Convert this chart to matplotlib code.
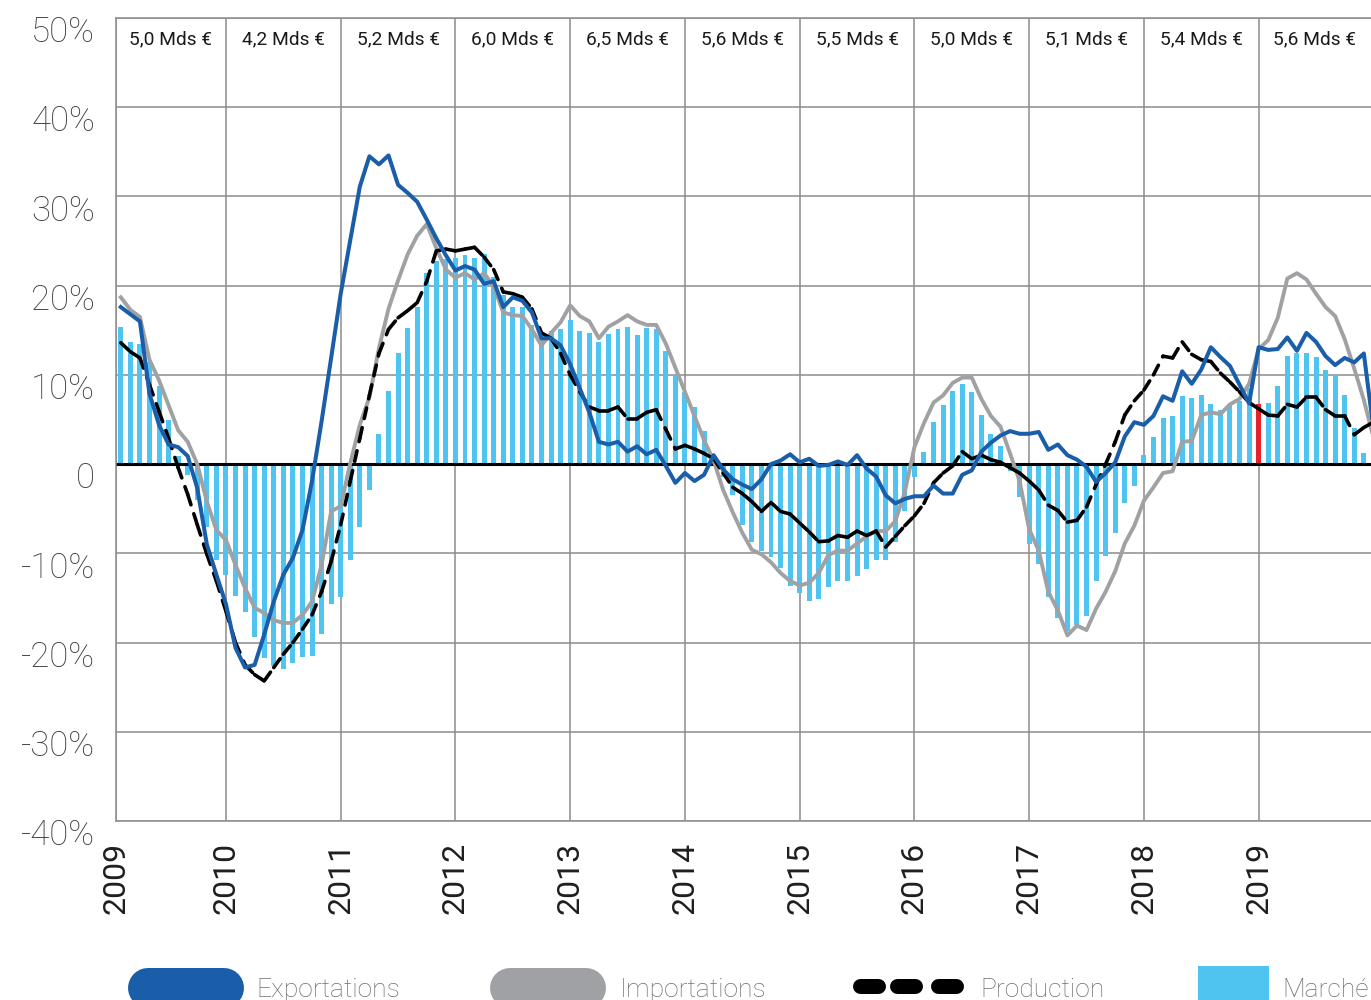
import numpy as np
import pandas as pd
import matplotlib
matplotlib.use("Agg")
import matplotlib.pyplot as plt
from matplotlib.collections import LineCollection
from matplotlib.lines import Line2D
from matplotlib.patches import Rectangle
import matplotlib.transforms as mtransforms

plt.rcParams['font.family'] = ['Roboto', 'DejaVu Sans']

# ---------------- data ----------------
months = pd.date_range("2009-02-01", periods=132, freq="MS")  # Feb 2009 .. Jan 2020

exportations = [
    17.6, 16.8, 16.0, 7.9, 4.4, 2.2, 1.9, 0.9, -2.7, -9.0, -12.4,
    -15.7, -20.6, -22.8, -22.5, -19.1, -15.4, -12.4, -10.5, -7.4, -1.9, 4.8, 11.9,
    19.1, 25.1, 31.1, 34.5, 33.6, 34.6, 31.3, 30.4, 29.4, 27.4, 25.3, 23.4,
    21.7, 22.2, 21.8, 20.2, 20.5, 17.6, 18.7, 18.3, 17.0, 14.1, 14.1, 13.3,
    11.2, 8.5, 5.8, 2.5, 2.2, 2.5, 1.4, 2.0, 1.1, 1.6, -0.2, -2.1,
    -1.0, -1.9, -1.2, 1.0, -0.6, -1.7, -2.3, -2.8, -1.7, 0.0, 0.4, 1.1,
    0.2, 0.6, -0.2, -0.1, 0.3, -0.1, 1.0, -0.5, -1.4, -3.5, -4.4, -3.9,
    -3.6, -3.6, -2.4, -3.3, -3.3, -1.2, -0.7, 1.4, 2.4, 3.2, 3.7, 3.4,
    3.4, 3.6, 1.6, 2.2, 1.0, 0.5, -0.3, -2.0, -1.0, 0.2, 3.1, 4.7,
    4.4, 5.4, 7.6, 7.1, 10.4, 9.0, 10.6, 13.1, 12.0, 11.0, 8.9, 6.8,
    13.1, 12.8, 12.9, 14.2, 12.7, 14.7, 13.7, 12.1, 11.1, 11.9, 11.4, 12.4,
    4.0,
]
importations = [
    18.7, 17.3, 16.5, 11.7, 9.4, 6.6, 3.8, 2.5, 0.0, -4.2, -7.4,
    -8.5, -11.3, -13.9, -16.1, -16.7, -17.5, -17.8, -17.8, -16.9, -15.4, -11.3, -5.3,
    -4.7, 0.1, 4.4, 7.5, 13.0, 17.4, 20.6, 23.5, 25.6, 26.9, 24.2, 21.8,
    20.9, 21.4, 20.7, 21.4, 19.9, 17.0, 16.7, 16.6, 15.1, 13.3, 14.7, 15.9,
    17.8, 16.6, 16.0, 14.1, 15.4, 16.0, 16.7, 16.0, 15.6, 15.6, 13.5, 10.8,
    8.1, 5.4, 2.7, 0.4, -2.9, -5.4, -7.7, -9.6, -10.1, -11.0, -12.2, -13.1,
    -13.6, -13.3, -12.2, -10.2, -9.7, -9.7, -8.9, -8.1, -7.5, -7.5, -6.4, -3.1,
    1.9, 4.6, 6.9, 7.7, 9.1, 9.7, 9.7, 7.3, 5.4, 4.2, 1.2, -1.9,
    -7.3, -9.7, -14.3, -16.4, -19.2, -18.1, -18.6, -16.2, -14.3, -12.0, -8.9, -6.9,
    -4.1, -2.6, -1.0, -0.8, 2.5, 2.6, 5.5, 5.8, 5.6, 6.7, 7.3, 9.0,
    12.9, 13.9, 16.4, 20.8, 21.4, 20.7, 19.1, 17.6, 16.6, 14.0, 10.7, 7.2,
    3.0,
]
production = [
    13.6, 12.6, 11.9, 8.9, 5.9, 2.9, -0.4, -3.4, -6.8, -10.1, -13.1,
    -16.5, -20.0, -22.5, -23.6, -24.3, -22.8, -21.3, -20.0, -18.5, -16.9, -14.3, -10.9,
    -6.8, -1.9, 2.9, 7.7, 12.4, 15.1, 16.4, 17.2, 18.1, 20.5, 23.9, 24.1,
    23.9, 24.1, 24.3, 23.2, 21.8, 19.3, 19.1, 18.7, 17.4, 14.7, 14.1, 12.4,
    10.0, 8.1, 6.4, 6.0, 6.0, 6.4, 5.1, 5.1, 5.8, 6.1, 3.9, 1.7,
    2.1, 1.7, 1.2, 0.6, -1.0, -2.6, -3.3, -4.2, -5.3, -4.3, -5.3, -5.6,
    -6.6, -7.6, -8.7, -8.6, -8.0, -8.2, -7.5, -8.0, -7.5, -9.3, -8.1, -6.9,
    -5.8, -4.4, -2.1, -1.0, -0.2, 1.4, 0.6, 1.0, 0.5, 0.2, -0.4, -1.0,
    -1.9, -2.9, -4.6, -5.2, -6.5, -6.3, -4.8, -2.3, 0.0, 2.5, 5.5, 7.1,
    8.3, 10.0, 12.1, 11.9, 13.7, 12.3, 11.7, 11.5, 10.2, 9.2, 8.1, 6.9,
    6.2, 5.5, 5.4, 6.7, 6.4, 7.5, 7.5, 6.1, 5.4, 5.4, 3.3, 4.1,
    4.7,
]
marche = [
    15.4, 13.7, 13.5, 11.4, 8.8, 5.0, 0.9, -1.2, -4.0, -7.1, -10.7,
    -12.4, -14.8, -16.6, -19.4, -21.7, -22.6, -23.0, -22.3, -21.6, -21.5, -19.0, -15.7,
    -14.9, -10.7, -7.1, -2.9, 3.4, 8.2, 12.4, 15.3, 17.6, 21.4, 22.8, 23.0,
    23.1, 23.4, 23.1, 23.5, 21.0, 18.9, 17.6, 17.6, 15.6, 14.1, 14.9, 15.1,
    16.1, 14.9, 14.7, 13.7, 14.6, 15.1, 15.4, 14.5, 15.3, 15.1, 12.7, 10.0,
    8.1, 6.4, 3.7, 0.5, -1.5, -3.5, -6.8, -8.7, -9.7, -10.4, -11.6, -13.7,
    -14.5, -15.3, -15.1, -13.8, -13.1, -13.1, -12.5, -11.8, -10.8, -10.8, -8.7, -5.2,
    -1.5, 1.4, 4.7, 6.6, 8.2, 9.0, 8.1, 5.5, 3.4, 2.0, -0.8, -3.7,
    -8.9, -11.2, -14.9, -17.2, -18.7, -18.0, -17.0, -13.1, -10.3, -7.7, -4.4, -2.5,
    1.0, 3.0, 5.2, 5.4, 7.6, 7.4, 7.8, 6.7, 6.1, 6.6, 7.1, 8.5,
    6.7, 6.8, 8.7, 12.1, 12.5, 12.5, 12.0, 10.6, 9.9, 7.7, 4.0, 1.2,
]
highlight_month = "2019-01"
year_labels = [str(y) for y in range(2009, 2020)]
annual_values = ["5,0 Mds €", "4,2 Mds €", "5,2 Mds €", "6,0 Mds €", "6,5 Mds €",
                 "5,6 Mds €", "5,5 Mds €", "5,0 Mds €", "5,1 Mds €", "5,4 Mds €",
                 "5,6 Mds €"]
legend_labels = ["Exportations", "Importations", "Production", "Marché"]
y_ticks = list(range(-40, 51, 10))
y_tick_labels = ["0" if v == 0 else f"{v}%" for v in y_ticks]

# ---------------- style ----------------
C_EXP = "#1a5ea9"
C_IMP = "#a0a1a4"
C_PROD = "#000000"
C_MKT = "#4fc4f1"
C_RED = "#e8212b"
C_GRID = "#8c8c8c"
W, H = 1371, 1000

fig = plt.figure(figsize=(W / 100, H / 100), dpi=100)
ax = fig.add_axes([116 / W, 179 / H, 1255 / W, 803 / H])

x = np.arange(len(months))
xm = x[:len(marche)]
bar_colors = [C_RED if months[i].strftime("%Y-%m") == highlight_month else C_MKT
              for i in xm]
ax.bar(xm, marche, width=0.52, color=bar_colors, zorder=1, linewidth=0)
ax.axhline(0, color="black", lw=2.2, zorder=2)

ax.plot(x, importations, color=C_IMP, lw=2.8, zorder=3, solid_joinstyle="round")
pts = np.column_stack([x, production])
segs = np.stack([pts[:-1], pts[1:]], axis=1)
lc = LineCollection(segs, colors=C_PROD, linewidths=2.6,
                    linestyles=[(0, (3.0, 2.6))], zorder=4)
lc.set_capstyle("round")
ax.add_collection(lc)
ax.plot(x, exportations, color=C_EXP, lw=2.9, zorder=5, solid_joinstyle="round")

# axes, grid
x_left, x_right = -0.5, 130.75
ax.set_xlim(x_left, x_right)
ax.set_ylim(-40, 50)
jan_idx = [i for i, m in enumerate(months) if m.month == 1 and m.year <= 2019]
xticks = [x_left] + jan_idx
ax.set_xticks(xticks)
ax.set_xticklabels(year_labels, rotation=90, va="top", ha="center",
                   fontsize=23, color="#1e1e1e", fontweight="normal")
ax.set_yticks(y_ticks)
ax.set_yticklabels(y_tick_labels, fontsize=25, color="#404040",
                   fontweight="light")
ax.grid(True, color=C_GRID, lw=1.1, zorder=0)
ax.set_axisbelow(True)
ax.tick_params(axis="both", length=0)
ax.tick_params(axis="y", pad=15)
ax.tick_params(axis="x", pad=15)
for s in ["left", "bottom", "top"]:
    ax.spines[s].set_color(C_GRID)
    ax.spines[s].set_linewidth(1.1)
ax.spines["right"].set_visible(False)

off = mtransforms.ScaledTranslation(0, -0.11, fig.dpi_scale_trans)
for lbl in ax.get_yticklabels():
    lbl.set_transform(lbl.get_transform() + off)

# annual values in the top band
bounds = xticks + [x_right]
for k, txt in enumerate(annual_values):
    xc = (bounds[k] + bounds[k + 1]) / 2
    ax.text(xc, 47.6, txt, ha="center", va="center", fontsize=13.8,
            color="#1a1a1a", zorder=6)

# ---------------- legend (bottom, partially cut) ----------------
def fx(px):
    return px / W

def fy(py):
    return 1 - py / H

tf = fig.transFigure
fig.add_artist(Line2D([fx(148), fx(224)], [fy(988), fy(988)], transform=tf,
                      color=C_EXP, lw=28.8, solid_capstyle="round"))
fig.add_artist(Line2D([fx(510), fx(586)], [fy(988), fy(988)], transform=tf,
                      color=C_IMP, lw=28.8, solid_capstyle="round"))
for a, b in [(852, 885), (889, 923), (931, 963)]:
    fig.add_artist(Line2D([fx(a + 7.5), fx(b - 7.5)], [fy(985.5), fy(985.5)],
                          transform=tf, color=C_PROD, lw=10.8,
                          solid_capstyle="round"))
fig.add_artist(Rectangle((fx(1198), fy(1010)), fx(1269) - fx(1198),
                         fy(966) - fy(1010), transform=tf, color=C_MKT, lw=0))
for px, lab in zip([256, 620, 980, 1282], legend_labels):
    fig.text(fx(px), fy(997), lab, ha="left", va="baseline", fontsize=19,
             color="#6d6e71", fontweight="light")

fig.savefig("out.png", dpi=100)
